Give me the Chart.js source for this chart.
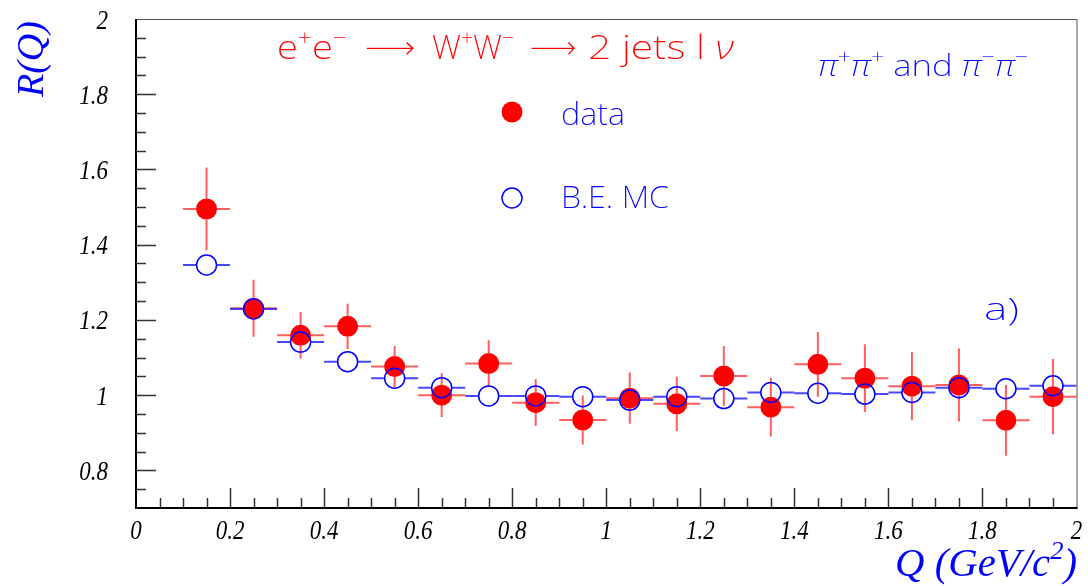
<!DOCTYPE html>
<html>
<head>
<meta charset="utf-8">
<script src="https://cdn.jsdelivr.net/npm/chart.js@4.4.0/dist/chart.umd.min.js"></script>
<style>
body { margin: 0; background: #fff; }
#wrap { width: 1088px; height: 586px; position: relative; }
</style>
</head>
<body>
<div id="wrap"><canvas id="myChart"></canvas></div>
<script>
// bin centres (Q in GeV/c^2), each bin is 0.1 wide
const qBins = [0.15, 0.25, 0.35, 0.45, 0.55, 0.65, 0.75, 0.85, 0.95, 1.05,
               1.15, 1.25, 1.35, 1.45, 1.55, 1.65, 1.75, 1.85, 1.95];
const binHalfWidth = 0.05;

// data (red filled dots)
const dataR   = [1.495, 1.231, 1.159, 1.183, 1.076, 1.000, 1.084, 0.980, 0.934, 0.992,
                 0.977, 1.051, 0.968, 1.082, 1.045, 1.024, 1.027, 0.933, 0.996];
const dataErr = [0.110, 0.076, 0.062, 0.060, 0.055, 0.058, 0.062, 0.062, 0.065, 0.068,
                 0.072, 0.080, 0.078, 0.086, 0.090, 0.091, 0.097, 0.094, 0.100];

// Bose-Einstein MC (blue open circles)
const mcR = [1.346, 1.229, 1.141, 1.089, 1.045, 1.020, 0.998, 0.998, 0.996, 0.987,
             0.996, 0.991, 1.007, 1.005, 1.003, 1.007, 1.020, 1.017, 1.025];

const xTicks = [0, 0.2, 0.4, 0.6, 0.8, 1, 1.2, 1.4, 1.6, 1.8, 2];
const xTickLabels = ['0', '0.2', '0.4', '0.6', '0.8', '1', '1.2', '1.4', '1.6', '1.8', '2'];
const yTicks = [0.8, 1, 1.2, 1.4, 1.6, 1.8, 2];
const yTickLabels = ['0.8', '1', '1.2', '1.4', '1.6', '1.8', '2'];

const RED = '#ff0000';
const BLUE = '#0000ff';
const serif = '"Liberation Serif", "Times New Roman", serif';
const thin = '"Noto Sans", "DejaVu Sans", sans-serif';

// draw a run of text pieces squeezed to fit between x0 and x1: [text, font, raise, erode]
function fitRun(ctx, x0, x1, y, parts) {
    let w = 0;
    for (const [t, f] of parts) { ctx.font = f; w += ctx.measureText(t).width; }
    const sx = (x1 - x0) / w;
    ctx.save();
    ctx.translate(x0, y);
    ctx.scale(sx, 1);
    ctx.textAlign = 'left';
    let x = 0;
    for (const [t, f, up, erode] of parts) {
        ctx.font = f;
        ctx.fillText(t, x, -(up || 0));
        if (erode) {
            // thin out a heavy glyph
            ctx.strokeStyle = '#fff';
            ctx.lineWidth = erode;
            ctx.strokeText(t, x, -(up || 0));
        }
        x += ctx.measureText(t).width;
    }
    ctx.restore();
}

// narrow text at a point
function narrowText(ctx, t, x, y, align, sx) {
    ctx.save();
    ctx.translate(x, y);
    ctx.scale(sx, 1);
    ctx.textAlign = align;
    ctx.fillText(t, 0, 0);
    ctx.restore();
}

// error bars, not crossing the marker
const errorBars = {
    id: 'errorBars',
    beforeDatasetsDraw(chart) {
        const ctx = chart.ctx;
        const xs = chart.scales.x, ys = chart.scales.y;
        ctx.save();
        for (let d = chart.data.datasets.length - 1; d >= 0; d--) {
            const ds = chart.data.datasets[d];
            ctx.strokeStyle = ds.barColor;
            ctx.lineWidth = 2;
            ds.data.forEach((p, i) => {
                const px = xs.getPixelForValue(p.x);
                const py = ys.getPixelForValue(p.y);
                const gap = ds.pointRadius;
                const xl = xs.getPixelForValue(p.x - ds.errX);
                const xr = xs.getPixelForValue(p.x + ds.errX);
                ctx.beginPath();
                ctx.moveTo(xl, py); ctx.lineTo(px - gap, py);
                ctx.moveTo(px + gap, py); ctx.lineTo(xr, py);
                if (ds.errY) {
                    const yt = ys.getPixelForValue(p.y + ds.errY[i]);
                    const yb = ys.getPixelForValue(p.y - ds.errY[i]);
                    if (py - gap > yt) { ctx.moveTo(px, yt); ctx.lineTo(px, py - gap); }
                    if (py + gap < yb) { ctx.moveTo(px, py + gap); ctx.lineTo(px, yb); }
                }
                ctx.stroke();
            });
        }
        ctx.restore();
    }
};

// axis frame with ROOT-style inward ticks, tick labels, titles and texts
const decorations = {
    id: 'decorations',
    afterDraw(chart) {
        const ctx = chart.ctx;
        const a = chart.chartArea;
        const xs = chart.scales.x, ys = chart.scales.y;
        ctx.save();
        ctx.strokeStyle = '#555';
        ctx.lineWidth = 1;
        ctx.beginPath();
        ctx.moveTo(a.left, a.top + 0.5);
        ctx.lineTo(a.right + 0.5, a.top + 0.5);
        ctx.lineTo(a.right + 0.5, a.bottom);
        ctx.stroke();

        ctx.strokeStyle = '#000';
        ctx.lineWidth = 2;
        ctx.beginPath();
        ctx.moveTo(a.left, a.top);
        ctx.lineTo(a.left, a.bottom);
        ctx.lineTo(a.right + 1, a.bottom);
        ctx.stroke();

        ctx.strokeStyle = '#333';
        ctx.lineWidth = 1.5;
        ctx.beginPath();
        for (let i = 1; i < 40; i++) {
            const px = Math.round(xs.getPixelForValue(i * 0.05)) + 0.5;
            const len = i % 4 === 0 ? 20 : 10;
            ctx.moveTo(px, a.bottom); ctx.lineTo(px, a.bottom - len);
        }
        for (let i = 15; i < 40; i++) {
            const py = Math.round(ys.getPixelForValue(i * 0.05)) + 0.5;
            const len = i % 4 === 0 ? 20 : 10;
            ctx.moveTo(a.left, py); ctx.lineTo(a.left + len, py);
        }
        ctx.stroke();

        // tick labels
        ctx.fillStyle = '#000';
        ctx.font = 'italic 28px ' + serif;
        ctx.textBaseline = 'alphabetic';
        xs.ticks.forEach((t, i) => {
            narrowText(ctx, xTickLabels[i], xs.getPixelForValue(t.value), a.bottom + 31, 'center', 0.82);
        });
        ys.ticks.forEach((t, i) => {
            narrowText(ctx, yTickLabels[i], a.left - 28, ys.getPixelForValue(t.value) + 9.5, 'right', 0.82);
        });

        // axis titles
        ctx.fillStyle = BLUE;
        ctx.save();
        ctx.translate(43, 97);
        ctx.rotate(-Math.PI / 2);
        ctx.font = 'italic 38px ' + serif;
        ctx.textAlign = 'left';
        ctx.fillText('R(Q)', 0, 0);
        ctx.restore();

        const f40 = 'italic 40px ' + serif, f26 = 'italic 26px ' + serif;
        fitRun(ctx, 895, 1077, 576, [['Q (GeV/c', f40], ['2', f26, 17], [')', f40]]);

        // red process label
        ctx.fillStyle = RED;
        const r34 = '200 34px ' + thin, r22 = '200 22px ' + thin;
        const arrow = '34px "DejaVu Sans", sans-serif';
        const nu = 'italic 200 34px ' + thin;
        fitRun(ctx, 277, 347, 59, [['e', r34], ['+', r22, 14], ['e', r34], ['\u2212', r22, 14]]);
        fitRun(ctx, 364, 416, 59, [['\u27F6', arrow, 0, 1.4]]);
        fitRun(ctx, 432, 514, 59, [['W', r34], ['+', r22, 14], ['W', r34], ['\u2212', r22, 14]]);
        fitRun(ctx, 529, 577, 59, [['\u27F6', arrow, 0, 1.4]]);
        fitRun(ctx, 588, 734, 59, [['2 jets l ', r34], ['\u03BD', nu]]);

        // blue channel label
        ctx.fillStyle = BLUE;
        const p30 = 'italic 200 30px ' + thin, s30 = '200 30px ' + thin, s20 = '200 20px ' + thin;
        fitRun(ctx, 818, 1028, 76, [['\u03C0', p30], ['+', s20, 12], ['\u03C0', p30], ['+', s20, 12],
            [' and ', s30], ['\u03C0', p30], ['\u2212', s20, 12], ['\u03C0', p30], ['\u2212', s20, 12]]);

        // legend
        ctx.beginPath();
        ctx.arc(512, 112, 10.5, 0, Math.PI * 2);
        ctx.fillStyle = RED;
        ctx.fill();
        ctx.beginPath();
        ctx.arc(512, 198, 10, 0, Math.PI * 2);
        ctx.strokeStyle = BLUE;
        ctx.lineWidth = 1.5;
        ctx.stroke();
        ctx.fillStyle = BLUE;
        const s32 = '200 32px ' + thin;
        fitRun(ctx, 561, 625, 125, [['data', s32]]);
        fitRun(ctx, 561, 669, 208, [['B.E. MC', s32]]);
        fitRun(ctx, 984, 1019, 320, [['a)', s32]]);
        ctx.restore();
    }
};

const ctx = document.getElementById('myChart');

new Chart(ctx, {
    type: 'scatter',
    data: {
        datasets: [{
            label: 'B.E. MC',
            data: qBins.map((q, i) => ({x: q, y: mcR[i]})),
            pointRadius: 10,
            pointHoverRadius: 10,
            pointBackgroundColor: 'rgba(0,0,0,0)',
            pointBorderColor: BLUE,
            pointBorderWidth: 1.5,
            errX: binHalfWidth,
            barColor: 'rgba(40,40,255,0.85)',
            order: 0
        }, {
            label: 'data',
            data: qBins.map((q, i) => ({x: q, y: dataR[i]})),
            pointRadius: 10.5,
            pointHoverRadius: 10.5,
            pointBackgroundColor: RED,
            pointBorderWidth: 0,
            errX: binHalfWidth,
            errY: dataErr,
            barColor: 'rgba(255,40,40,0.75)',
            order: 1
        }]
    },
    options: {
        responsive: true,
        maintainAspectRatio: false,
        animation: false,
        layout: { padding: { top: 19, right: 10, left: 0, bottom: 0 } },
        plugins: { legend: { display: false }, tooltip: { enabled: false } },
        scales: {
            x: {
                type: 'linear',
                min: 0, max: 2,
                grid: { display: false, drawTicks: false },
                border: { display: false },
                afterBuildTicks: (s) => { s.ticks = xTicks.map(v => ({value: v})); },
                afterFit: (s) => { s.height = 78; },
                ticks: { display: false }
            },
            y: {
                type: 'linear',
                min: 0.7, max: 2,
                grid: { display: false, drawTicks: false },
                border: { display: false },
                afterBuildTicks: (s) => { s.ticks = yTicks.map(v => ({value: v})); },
                afterFit: (s) => { s.width = 136; },
                ticks: { display: false }
            }
        }
    },
    plugins: [errorBars, decorations]
});
</script>
</body>
</html>
